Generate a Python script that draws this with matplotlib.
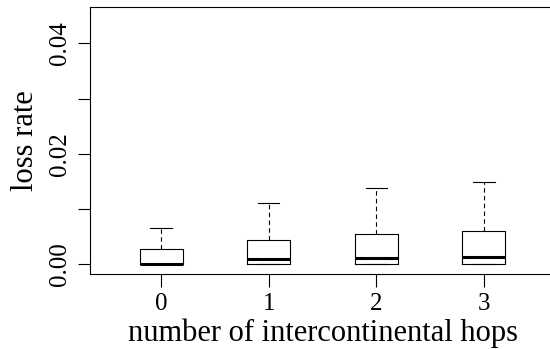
import matplotlib
matplotlib.use('Agg')
import matplotlib.pyplot as plt

hops = [0, 1, 2, 3]
whislo = [0.0, 0.0, 0.0, 0.0]
q1 = [0.0, 0.0, 0.0, 0.0]
med = [0.0, 0.00097, 0.0011, 0.00122]
q3 = [0.00268, 0.00438, 0.00547, 0.00596]
whishi = [0.00657, 0.0110, 0.01374, 0.01478]

plt.rcParams['font.family'] = ['Liberation Serif', 'DejaVu Serif']

fig = plt.figure(figsize=(5.5, 3.49), dpi=100)
ax = fig.add_axes([90 / 550, 1 - 274 / 349, 465 / 550, 267.5 / 349])

stats = []
for i in range(len(hops)):
	stats.append({'whislo': whislo[i], 'q1': q1[i], 'med': med[i], 'q3': q3[i],
		'whishi': whishi[i], 'fliers': [], 'label': str(hops[i])})

ax.bxp(stats, positions=hops, widths=0.4, capwidths=0.2, showfliers=False,
	boxprops=dict(color='black', linewidth=0.8),
	medianprops=dict(color='black', linewidth=2.2, solid_capstyle='butt'),
	whiskerprops=dict(color='black', linewidth=0.8, linestyle=(0, (4, 3))),
	capprops=dict(color='black', linewidth=0.8))

ax.set_xlim(-0.66, 3.66)
ax.set_ylim(-0.00182, 0.0467)
ax.set_xticks(hops)
ax.set_xticklabels([str(h) for h in hops])
ax.set_yticks([0, 0.01, 0.02, 0.03, 0.04])
ax.set_yticklabels(['0.00', '', '0.02', '', '0.04'], rotation=90, va='center')
ax.tick_params(direction='out', length=9, width=0.8, labelsize=18, pad=5)
for s in ax.spines.values():
	s.set_linewidth(0.8)
ax.spines['right'].set_visible(False)

ax.set_xlabel('number of intercontinental hops', fontsize=22, labelpad=2)
ax.set_ylabel('loss rate', fontsize=22, labelpad=6)

fig.savefig('out.png', dpi=100)
